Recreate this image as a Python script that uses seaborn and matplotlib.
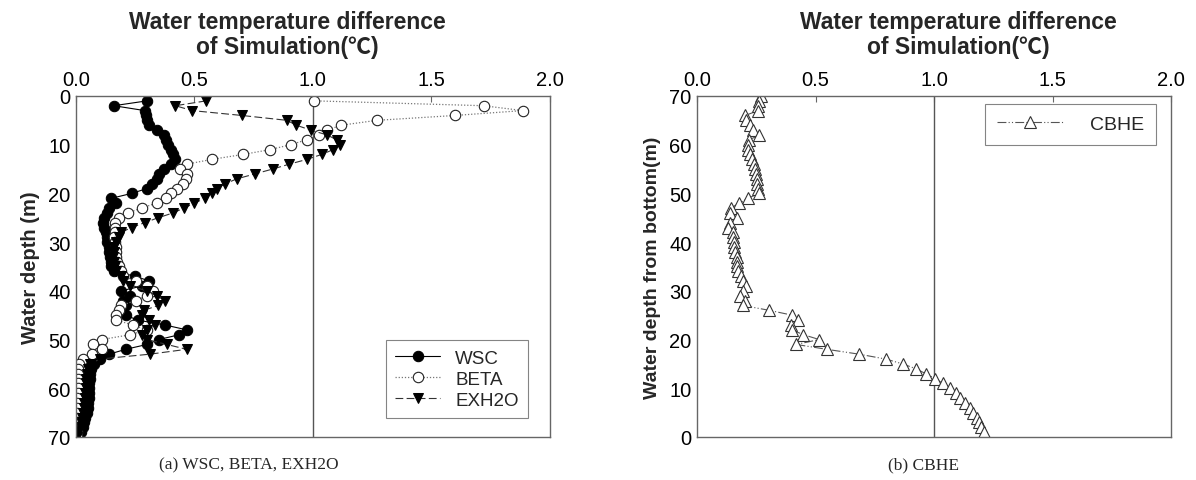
import matplotlib
matplotlib.use("Agg")
import matplotlib.pyplot as plt
import numpy as np
import seaborn as sns

# depth (m) from the surface, left panel
depth = np.arange(1, 71)

wsc = [0.30, 0.16, 0.29, 0.295, 0.30, 0.31, 0.34, 0.37, 0.38, 0.39,
       0.40, 0.41, 0.42, 0.40, 0.37, 0.35, 0.34, 0.32, 0.30, 0.235,
       0.15, 0.17, 0.14, 0.13, 0.12, 0.115, 0.12, 0.125, 0.13, 0.13,
       0.14, 0.14, 0.145, 0.15, 0.15, 0.16, 0.25, 0.31, 0.28, 0.19,
       0.23, 0.20, 0.21, 0.19, 0.21, 0.26, 0.375, 0.467, 0.436, 0.35,
       0.30, 0.21, 0.14, 0.10, 0.075, 0.065, 0.06, 0.058, 0.056, 0.055,
       0.055, 0.054, 0.052, 0.05, 0.045, 0.04, 0.035, 0.03, 0.02, 0.01]

beta = [1.005, 1.72, 1.885, 1.60, 1.27, 1.12, 1.06, 1.027, 0.973, 0.906,
        0.82, 0.706, 0.575, 0.467, 0.44, 0.467, 0.465, 0.45, 0.425, 0.40,
        0.38, 0.34, 0.277, 0.22, 0.183, 0.165, 0.165, 0.165, 0.162, 0.165,
        0.17, 0.17, 0.17, 0.175, 0.18, 0.19, 0.20, 0.253, 0.30, 0.326,
        0.30, 0.253, 0.19, 0.183, 0.17, 0.169, 0.24, 0.30, 0.23, 0.108,
        0.073, 0.108, 0.066, 0.031, 0.012, 0.008, 0.008, 0.008, 0.007, 0.007,
        0.007, 0.006, 0.006, 0.006, 0.005, 0.005, 0.005, 0.004, 0.004, 0.003]

exh2o = [0.55, 0.42, 0.49, 0.70, 0.89, 0.93, 0.99, 1.06, 1.10, 1.114,
         1.086, 1.037, 0.976, 0.90, 0.83, 0.755, 0.68, 0.63, 0.594, 0.572,
         0.544, 0.50, 0.456, 0.41, 0.347, 0.29, 0.235, 0.19, 0.18, 0.17,
         0.16, 0.16, 0.155, 0.16, 0.165, 0.17, 0.19, 0.20, 0.228, 0.30,
         0.34, 0.375, 0.347, 0.287, 0.28, 0.31, 0.333, 0.30, 0.277, 0.30,
         0.383, 0.467, 0.312, 0.10, 0.06, 0.05, 0.045, 0.044, 0.043, 0.042,
         0.04, 0.038, 0.036, 0.033, 0.03, 0.026, 0.022, 0.016, 0.01, 0.004]

# height (m) above the bottom, right panel
height = np.arange(70, 0, -1)
cbhe = [0.269, 0.263, 0.259, 0.259, 0.203, 0.207, 0.224, 0.235, 0.263, 0.221,
        0.217, 0.217, 0.224, 0.231, 0.24, 0.245, 0.248, 0.252, 0.255, 0.259,
        0.263, 0.214, 0.179, 0.142, 0.139, 0.167, 0.139, 0.132, 0.15, 0.153,
        0.156, 0.158, 0.16, 0.167, 0.17, 0.167, 0.174, 0.184, 0.195, 0.207,
        0.195, 0.181, 0.203, 0.193, 0.305, 0.402, 0.427, 0.397, 0.40, 0.449,
        0.516, 0.418, 0.547, 0.684, 0.796, 0.868, 0.924, 0.965, 1.004, 1.037,
        1.068, 1.092, 1.11, 1.13, 1.15, 1.165, 1.18, 1.19, 1.20, 1.21]

x_ticks = [0.0, 0.5, 1.0, 1.5, 2.0]
title = "Water temperature difference\nof Simulation(\u2103)"

sns.set_theme(style="white")
plt.rcParams["font.family"] = ["Liberation Sans", "Noto Sans CJK KR", "DejaVu Sans"]
plt.rcParams["axes.edgecolor"] = "#666666"

fig = plt.figure(figsize=(11.96, 4.81), dpi=100)
ax1 = fig.add_axes([0.0635, 0.0894, 0.3963, 0.709])
ax2 = fig.add_axes([0.5828, 0.0894, 0.3963, 0.709])

# left panel
sns.lineplot(x=wsc, y=depth, sort=False, estimator=None, ax=ax1, label="WSC",
             color="black", linewidth=0.8, linestyle="-", marker="o",
             markersize=7.5, markerfacecolor="black", markeredgecolor="black")
sns.lineplot(x=beta, y=depth, sort=False, estimator=None, ax=ax1, label="BETA",
             color="#777777", linewidth=0.9, linestyle=(0, (1, 1.5)), marker="o",
             markersize=7.5, markerfacecolor="white", markeredgecolor="#222222",
             markeredgewidth=0.8)
sns.lineplot(x=exh2o, y=depth, sort=False, estimator=None, ax=ax1, label="EXH2O",
             color="#333333", linewidth=0.8, linestyle=(0, (7, 3)), marker="v",
             markersize=7.5, markerfacecolor="black", markeredgecolor="black")
ax1.set_ylim(70, 0)

# right panel
sns.lineplot(x=cbhe, y=height, sort=False, estimator=None, ax=ax2, label="CBHE",
             color="#555555", linewidth=0.8, linestyle=(0, (8, 2, 1, 2, 1, 2)),
             marker="^", markersize=8, markerfacecolor="white",
             markeredgecolor="#333333", markeredgewidth=0.8)
ax2.set_ylim(0, 70)

for ax in (ax1, ax2):
    ax.axvline(1.0, color="#555555", linewidth=1.0, zorder=1)
    ax.set_xlim(0, 2.0)
    ax.set_xticks(x_ticks)
    ax.set_xticklabels([f"{t:.1f}" for t in x_ticks])
    ax.set_yticks(range(0, 71, 10))
    ax.xaxis.tick_top()
    ax.tick_params(axis="both", labelsize=14.5, labelcolor="black", color="#666666",
                   direction="in", length=4, width=0.8)
    ax.tick_params(axis="x", pad=5)
    ax.tick_params(axis="y", pad=4)
    for sp in ax.spines.values():
        sp.set_linewidth(1.0)
    ax.set_xlabel("")

ax1.set_ylabel("Water depth (m)", fontsize=14.5, fontweight="bold", labelpad=6)
ax2.set_ylabel("Water depth from bottom(m)", fontsize=14, fontweight="bold", labelpad=6)

leg1 = ax1.legend(loc="lower right", bbox_to_anchor=(0.954, 0.056), borderaxespad=0,
                  fontsize=13.5, frameon=True, fancybox=False, edgecolor="#666666",
                  handlelength=2.4, borderpad=0.5, labelspacing=0.2)
leg1.get_frame().set_linewidth(0.8)
leg2 = ax2.legend(loc="upper right", bbox_to_anchor=(0.968, 0.977), borderaxespad=0,
                  fontsize=14, frameon=True, fancybox=False, edgecolor="#666666",
                  handlelength=3.4, borderpad=0.6, handletextpad=1.4)
leg2.get_frame().set_linewidth(0.8)

fig.text(287 / 1196, 1 - 35 / 481, title, ha="center", va="center",
         fontsize=16.5, fontweight="bold", linespacing=1.1)
fig.text(958 / 1196, 1 - 35 / 481, title, ha="center", va="center",
         fontsize=16.5, fontweight="bold", linespacing=1.1)

fig.text(249 / 1196, 1 - 465 / 481, "(a) WSC, BETA, EXH2O", ha="center",
         va="center", fontsize=12.5, family=["Liberation Serif", "DejaVu Serif"])
fig.text(924 / 1196, 1 - 465 / 481, "(b) CBHE", ha="center",
         va="center", fontsize=12.5, family=["Liberation Serif", "DejaVu Serif"])

fig.savefig("out.png", dpi=100)
plt.close(fig)
